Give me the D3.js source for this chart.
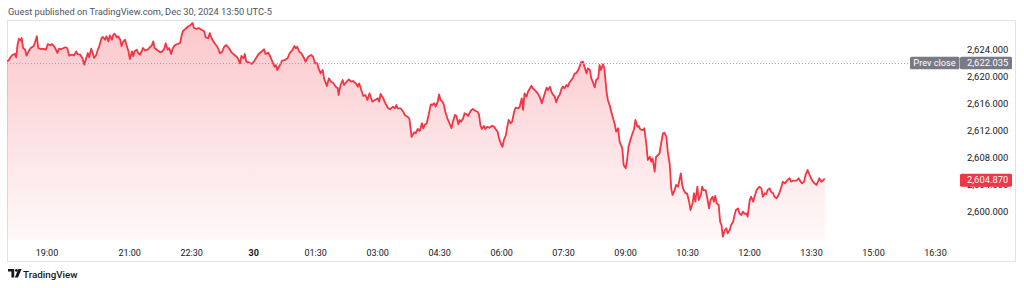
<!DOCTYPE html>
<html>
<head>
<meta charset="utf-8">
<script src="https://cdn.jsdelivr.net/npm/d3@7"></script>
<style>
  html, body { margin: 0; padding: 0; background: #fff; }
  svg { display: block; font-family: Roboto, "Noto Sans", sans-serif; }
</style>
</head>
<body>
<svg id="chart" width="1024" height="288"></svg>
<script>
var width = 1024;
var height = 288;

// minutes after 18:00 (Dec 29), last price
var series = [
  [0,2622.30],[5,2622.34],[7,2622.74],[10,2623.14],[14,2623.38],[16,2622.84],[18,2624.71],[20,2625.60],[23,2625.30],[24,2625.70],
  [26,2624.22],[29,2623.97],[31,2623.08],[34,2623.73],[37,2624.22],[41,2624.47],[43,2624.96],[46,2625.96],[48,2624.22],[51,2624.07],
  [55,2624.12],[59,2623.97],[62,2624.81],[65,2624.62],[68,2624.81],[71,2624.47],[73,2624.12],[76,2623.48],[78,2624.12],[82,2624.07],
  [87,2624.33],[90,2624.22],[93,2623.08],[97,2623.23],[100,2623.14],[103,2623.73],[105,2623.33],[109,2623.23],[112,2622.74],[115,2621.75],
  [117,2622.49],[120,2623.48],[122,2622.84],[125,2624.12],[127,2623.48],[129,2622.74],[132,2623.14],[134,2623.82],[137,2624.62],[140,2625.70],
  [142,2625.85],[145,2625.45],[147,2625.96],[150,2625.21],[152,2626.10],[155,2625.45],[157,2626.19],[159,2626.34],[162,2625.81],[164,2625.96],
  [167,2625.45],[169,2624.47],[171,2625.11],[174,2625.45],[176,2624.71],[179,2623.73],[181,2622.59],[184,2623.73],[186,2622.99],[188,2623.73],
  [191,2623.97],[193,2623.48],[196,2623.23],[198,2623.73],[200,2624.22],[203,2623.88],[207,2623.97],[210,2624.33],[213,2624.62],[215,2625.21],
  [217,2624.22],[221,2623.88],[225,2623.58],[228,2623.73],[231,2624.12],[233,2624.92],[236,2623.97],[238,2624.22],[241,2623.33],[243,2624.12],
  [246,2624.62],[250,2624.81],[254,2624.96],[256,2625.96],[258,2626.70],[262,2627.08],[266,2627.44],[269,2627.59],[272,2627.93],[274,2627.19],
  [278,2627.04],[281,2627.19],[285,2626.93],[289,2626.70],[291,2625.81],[295,2625.70],[297,2626.44],[300,2625.60],[304,2624.92],[308,2624.41],
  [312,2623.44],[315,2623.67],[318,2624.41],[321,2624.67],[325,2624.18],[329,2623.53],[333,2623.18],[337,2622.84],[341,2621.96],[343,2623.04],
  [346,2622.70],[348,2623.33],[350,2622.19],[354,2622.10],[358,2621.85],[361,2622.19],[365,2622.84],[368,2623.33],[372,2623.67],[376,2624.03],
  [378,2623.33],[382,2623.53],[385,2622.93],[388,2622.19],[391,2621.45],[393,2621.70],[395,2620.96],[399,2621.70],[402,2622.34],[406,2622.44],
  [410,2622.70],[413,2623.44],[417,2623.93],[420,2624.52],[422,2624.18],[424,2624.41],[427,2623.67],[430,2623.44],[434,2622.70],[436,2622.19],
  [440,2622.93],[444,2623.18],[447,2622.93],[450,2621.96],[453,2621.96],[455,2621.21],[458,2620.47],[461,2620.96],[463,2619.73],[467,2618.59],
  [470,2619.73],[473,2619.23],[476,2619.08],[480,2618.49],[483,2618.25],[484,2617.26],[487,2618.74],[490,2619.48],[492,2618.74],[496,2619.23],
  [499,2619.58],[502,2619.23],[505,2619.33],[509,2618.99],[512,2618.49],[514,2618.99],[517,2618.00],[520,2617.11],[523,2617.26],[526,2616.52],
  [529,2617.51],[533,2616.27],[537,2616.52],[541,2616.77],[543,2616.27],[545,2617.41],[549,2616.77],[552,2616.03],[556,2615.29],[559,2615.14],
  [563,2615.53],[566,2615.29],[568,2615.78],[570,2615.29],[574,2615.29],[578,2614.78],[580,2614.30],[584,2614.05],[587,2613.70],[590,2611.04],
  [594,2611.73],[596,2611.59],[599,2612.22],[602,2611.93],[605,2613.07],[607,2612.33],[609,2612.81],[612,2613.07],[615,2614.40],[618,2615.88],
  [620,2615.78],[623,2616.03],[625,2615.53],[628,2616.27],[630,2617.36],[632,2616.52],[635,2616.27],[637,2615.78],[639,2614.78],[642,2613.81],
  [645,2613.07],[648,2612.33],[650,2613.30],[653,2614.30],[655,2614.19],[658,2612.92],[660,2613.56],[662,2613.30],[665,2613.81],[667,2614.55],
  [670,2614.40],[672,2614.15],[674,2614.55],[677,2615.04],[679,2615.19],[683,2614.89],[686,2614.78],[688,2614.30],[690,2612.81],[692,2612.22],
  [695,2612.67],[697,2612.22],[700,2612.56],[703,2612.41],[707,2612.71],[710,2612.56],[712,2612.22],[715,2611.82],[717,2610.84],[720,2609.96],
  [722,2609.60],[724,2610.59],[727,2611.33],[729,2612.56],[731,2613.56],[734,2613.07],[736,2613.30],[739,2614.78],[741,2615.38],[745,2615.29],
  [747,2615.53],[750,2616.77],[752,2615.04],[754,2617.51],[757,2617.01],[759,2617.75],[762,2618.25],[764,2618.64],[766,2618.25],[769,2618.00],
  [773,2617.51],[776,2617.01],[779,2616.03],[782,2617.01],[786,2618.34],[788,2618.00],[791,2618.49],[793,2617.75],[795,2617.36],[798,2617.01],
  [800,2616.18],[803,2617.01],[805,2617.26],[808,2618.25],[810,2618.49],[812,2618.25],[815,2618.74],[817,2618.49],[820,2619.23],[822,2619.48],
  [824,2619.73],[827,2620.47],[829,2620.47],[832,2620.96],[834,2621.45],[836,2622.10],[839,2622.19],[841,2621.45],[844,2620.47],[846,2621.21],
  [849,2620.96],[851,2619.73],[853,2619.23],[856,2618.40],[858,2619.48],[861,2619.73],[863,2621.70],[865,2620.96],[868,2621.81],[870,2621.21],
  [873,2617.85],[875,2616.52],[878,2615.63],[880,2614.74],[882,2614.00],[885,2612.96],[887,2611.82],[890,2612.33],[892,2610.34],[894,2609.85],
  [896,2609.36],[898,2606.89],[901,2606.40],[903,2607.63],[905,2609.60],[908,2610.70],[910,2611.33],[913,2612.18],[915,2613.56],[918,2612.56],
  [920,2612.67],[922,2612.18],[926,2612.07],[928,2612.33],[931,2609.85],[933,2607.63],[936,2608.12],[938,2607.38],[940,2607.88],[943,2605.90],
  [945,2608.12],[948,2608.37],[950,2608.62],[952,2609.85],[955,2611.58],[957,2611.67],[960,2611.08],[962,2608.86],[965,2606.89],[967,2603.44],
  [969,2602.44],[972,2603.18],[974,2603.93],[977,2603.67],[979,2604.67],[981,2605.66],[983,2603.93],[985,2603.18],[988,2602.70],[990,2602.70],
  [993,2601.45],[995,2600.22],[998,2601.21],[1000,2602.70],[1002,2601.45],[1005,2603.67],[1007,2601.70],[1010,2602.44],[1012,2603.67],[1014,2603.18],
  [1017,2603.18],[1019,2602.19],[1022,2600.47],[1024,2601.70],[1027,2602.19],[1029,2601.45],[1031,2602.30],[1033,2601.21],[1036,2600.96],[1038,2598.49],
  [1040,2597.99],[1042,2596.27],[1045,2597.26],[1047,2597.51],[1049,2596.77],[1052,2597.26],[1054,2597.99],[1057,2598.49],[1059,2599.48],[1061,2600.22],
  [1064,2600.47],[1066,2599.73],[1069,2599.48],[1071,2599.97],[1074,2599.63],[1076,2599.73],[1078,2599.23],[1081,2601.70],[1083,2602.19],[1086,2601.45],
  [1088,2602.19],[1091,2603.18],[1093,2603.43],[1095,2603.67],[1098,2603.43],[1100,2602.19],[1103,2602.70],[1105,2602.59],[1107,2603.18],[1110,2603.43],
  [1112,2602.93],[1115,2602.70],[1117,2602.19],[1120,2601.95],[1122,2602.30],[1124,2602.70],[1127,2603.67],[1129,2604.42],[1132,2604.17],[1134,2604.42],
  [1136,2604.67],[1139,2604.92],[1141,2604.42],[1144,2604.56],[1149,2604.56],[1152,2604.92],[1155,2604.42],[1157,2604.17],[1160,2604.42],[1162,2605.41],
  [1165,2606.15],[1168,2605.41],[1170,2604.92],[1173,2604.42],[1175,2604.17],[1178,2603.93],[1180,2604.42],[1182,2604.92],[1185,2604.42],[1187,2604.56],
  [1190,2604.87]
];

var prevClose = 2622.035;
var lastPrice = 2604.870;

var priceTicks = [2600, 2604, 2608, 2612, 2616, 2620, 2624];

// time ticks as hours after midnight Dec 29 (24 = Dec 30 00:00)
var timeTickHours = [19, 21, 22.5, 24, 25.5, 27, 28.5, 30, 31.5, 33, 34.5, 36, 37.5, 39, 40.5];
var timeTickLabels = ["19:00", "21:00", "22:30", "30", "01:30", "03:00", "04:30", "06:00",
                      "07:30", "09:00", "10:30", "12:00", "13:30", "15:00", "16:30"];

var sessionOpen = new Date(2024, 11, 29, 18, 0);
function minToDate(m) { return new Date(sessionOpen.getTime() + m * 60000); }
function hourToDate(h) { return new Date(2024, 11, 29, 0, 0).getTime() + h * 3600000; }

var plot = { left: 7, right: 960, top: 20, bottom: 240 };

var x = d3.scaleTime()
    .domain([new Date(hourToDate(19)), new Date(hourToDate(40.5))])
    .range([46.5, 935]);

var y = d3.scaleLinear()
    .domain([2600, 2624])
    .range([211.5, 49.5]);

var svg = d3.select("#chart");
var fmt = d3.format(",.3f");

// header
svg.append("text")
    .attr("x", 8)
    .attr("y", 15)
    .attr("fill", "#50535e")
    .style("font-size", "9.3px")
    .text("Guest published on TradingView.com, Dec 30, 2024 13:50 UTC-5");

// frame
svg.append("rect")
    .attr("x", 7.5).attr("y", 20.5)
    .attr("width", 1008).attr("height", 241)
    .attr("fill", "none")
    .attr("stroke", "#e0e3eb");

var defs = svg.append("defs");
defs.append("clipPath").attr("id", "plotclip")
  .append("rect")
    .attr("x", plot.left).attr("y", plot.top)
    .attr("width", plot.right - plot.left).attr("height", plot.bottom - plot.top);

var grad = defs.append("linearGradient")
    .attr("id", "areafill")
    .attr("gradientUnits", "userSpaceOnUse")
    .attr("x1", 0).attr("x2", 0)
    .attr("y1", 22).attr("y2", plot.bottom);
grad.append("stop").attr("offset", "0%").attr("stop-color", "#f23645").attr("stop-opacity", 0.28);
grad.append("stop").attr("offset", "100%").attr("stop-color", "#f23645").attr("stop-opacity", 0.03);

var g = svg.append("g").attr("clip-path", "url(#plotclip)");

var area = d3.area()
    .x(function(d) { return x(minToDate(d[0])); })
    .y0(plot.bottom)
    .y1(function(d) { return y(d[1]); });

var line = d3.line()
    .x(function(d) { return x(minToDate(d[0])); })
    .y(function(d) { return y(d[1]); });

g.append("path")
    .datum(series)
    .attr("d", area)
    .attr("fill", "url(#areafill)");

// prev close dotted line
svg.append("line")
    .attr("x1", plot.left).attr("x2", 910)
    .attr("y1", Math.round(y(prevClose)) + 0.5)
    .attr("y2", Math.round(y(prevClose)) + 0.5)
    .attr("stroke", "#a3a6af")
    .attr("stroke-width", 1)
    .attr("stroke-dasharray", "1,2");

g.append("path")
    .datum(series)
    .attr("d", line)
    .attr("fill", "none")
    .attr("stroke", "#f23645")
    .attr("stroke-width", 1.8)
    .attr("stroke-linejoin", "round");

// price axis
var yAxis = d3.axisRight(y)
    .tickValues(priceTicks)
    .tickSize(0)
    .tickPadding(0)
    .tickFormat(fmt);

var ya = svg.append("g")
    .attr("transform", "translate(967,0)")
    .call(yAxis);
ya.select(".domain").remove();
ya.selectAll("text")
    .attr("fill", "#131722")
    .style("font-size", "9.4px")
    .style("font-family", "Roboto, sans-serif");

// time axis
var xAxis = d3.axisBottom(x)
    .tickValues(timeTickHours.map(function(h) { return new Date(hourToDate(h)); }))
    .tickSize(0)
    .tickPadding(0)
    .tickFormat(function(d, i) { return timeTickLabels[i]; });

var xa = svg.append("g")
    .attr("transform", "translate(0,249.5)")
    .call(xAxis);
xa.select(".domain").remove();
xa.selectAll("text")
    .attr("fill", "#131722")
    .style("font-size", "9px")
    .style("font-family", "Roboto, sans-serif")
    .style("font-weight", function(d, i) { return timeTickLabels[i] === "30" ? "700" : "400"; });

// prev close label
var pcY = y(prevClose);
svg.append("rect")
    .attr("x", 910).attr("y", pcY - 6)
    .attr("width", 49.5).attr("height", 12.5)
    .attr("rx", 1.5)
    .attr("fill", "#787b86");
svg.append("rect")
    .attr("x", 960).attr("y", pcY - 6)
    .attr("width", 52).attr("height", 12.5)
    .attr("rx", 1.5)
    .attr("fill", "#787b86");
svg.append("text")
    .attr("x", 934.5).attr("y", pcY + 3.3)
    .attr("text-anchor", "middle")
    .attr("fill", "#fff")
    .style("font-size", "9.2px")
    .text("Prev close");
svg.append("text")
    .attr("x", 967).attr("y", pcY + 3.3)
    .attr("fill", "#fff")
    .style("font-size", "9.4px")
    .text(fmt(prevClose));

// last price label
var lpY = y(lastPrice) + 1.5;
svg.append("rect")
    .attr("x", 960).attr("y", lpY - 6.5)
    .attr("width", 52).attr("height", 13)
    .attr("rx", 1.5)
    .attr("fill", "#f23645");
svg.append("text")
    .attr("x", 967).attr("y", lpY + 3.3)
    .attr("fill", "#fff")
    .style("font-size", "9.4px")
    .text(fmt(lastPrice));

// logo
var logo = svg.append("g").attr("transform", "translate(8,269)").attr("fill", "#131722");
logo.append("path").attr("d", "M0 0H6.2V8.6H3.4V2.6H0Z");
logo.append("circle").attr("cx", 8.4).attr("cy", 1.4).attr("r", 1.4);
logo.append("path").attr("d", "M10.4 0H13.6L10 8.6H6.8Z");
svg.append("text")
    .attr("x", 23).attr("y", 277.5)
    .attr("fill", "#131722")
    .style("font-size", "9.8px")
    .style("font-weight", "500")
    .text("TradingView");
</script>
</body>
</html>
